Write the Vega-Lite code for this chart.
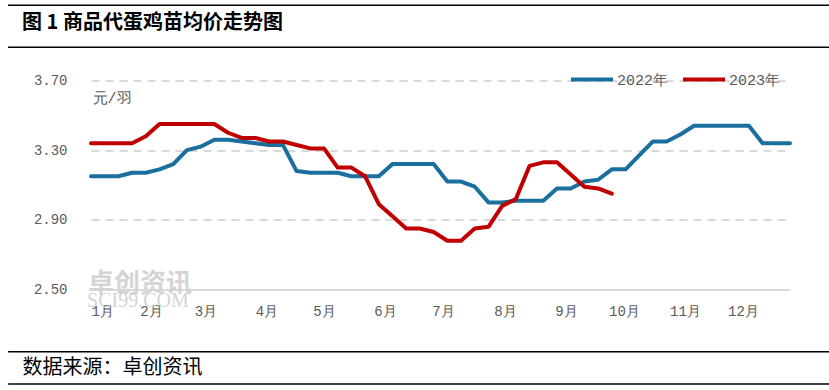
{
  "$schema": "https://vega.github.io/schema/vega-lite/v6.json",
  "width": 699,
  "height": 209,
  "autosize": {"type": "none"},
  "padding": {"left": 91, "top": 80.5, "right": 39, "bottom": 100.5},
  "background": "white",
  "config": {"view": {"stroke": null}, "font": "Liberation Mono"},
  "title": {
    "text": "图 1 商品代蛋鸡苗均价走势图",
    "anchor": "start",
    "frame": "group",
    "dx": -69,
    "offset": -28,
    "font": "Noto Sans CJK SC",
    "fontSize": 20,
    "fontWeight": "bold",
    "color": "#000000"
  },
  "datasets": {
    "prices": [
      {"week": 1, "year": "2022年", "price": 3.15},
      {"week": 2, "year": "2022年", "price": 3.15},
      {"week": 3, "year": "2022年", "price": 3.15},
      {"week": 4, "year": "2022年", "price": 3.17},
      {"week": 5, "year": "2022年", "price": 3.17},
      {"week": 6, "year": "2022年", "price": 3.19},
      {"week": 7, "year": "2022年", "price": 3.22},
      {"week": 8, "year": "2022年", "price": 3.30},
      {"week": 9, "year": "2022年", "price": 3.32},
      {"week": 10, "year": "2022年", "price": 3.36},
      {"week": 11, "year": "2022年", "price": 3.36},
      {"week": 12, "year": "2022年", "price": 3.35},
      {"week": 13, "year": "2022年", "price": 3.34},
      {"week": 14, "year": "2022年", "price": 3.33},
      {"week": 15, "year": "2022年", "price": 3.33},
      {"week": 16, "year": "2022年", "price": 3.18},
      {"week": 17, "year": "2022年", "price": 3.17},
      {"week": 18, "year": "2022年", "price": 3.17},
      {"week": 19, "year": "2022年", "price": 3.17},
      {"week": 20, "year": "2022年", "price": 3.15},
      {"week": 21, "year": "2022年", "price": 3.15},
      {"week": 22, "year": "2022年", "price": 3.15},
      {"week": 23, "year": "2022年", "price": 3.22},
      {"week": 24, "year": "2022年", "price": 3.22},
      {"week": 25, "year": "2022年", "price": 3.22},
      {"week": 26, "year": "2022年", "price": 3.22},
      {"week": 27, "year": "2022年", "price": 3.12},
      {"week": 28, "year": "2022年", "price": 3.12},
      {"week": 29, "year": "2022年", "price": 3.09},
      {"week": 30, "year": "2022年", "price": 3.00},
      {"week": 31, "year": "2022年", "price": 3.00},
      {"week": 32, "year": "2022年", "price": 3.01},
      {"week": 33, "year": "2022年", "price": 3.01},
      {"week": 34, "year": "2022年", "price": 3.01},
      {"week": 35, "year": "2022年", "price": 3.08},
      {"week": 36, "year": "2022年", "price": 3.08},
      {"week": 37, "year": "2022年", "price": 3.12},
      {"week": 38, "year": "2022年", "price": 3.13},
      {"week": 39, "year": "2022年", "price": 3.19},
      {"week": 40, "year": "2022年", "price": 3.19},
      {"week": 41, "year": "2022年", "price": 3.27},
      {"week": 42, "year": "2022年", "price": 3.35},
      {"week": 43, "year": "2022年", "price": 3.35},
      {"week": 44, "year": "2022年", "price": 3.39},
      {"week": 45, "year": "2022年", "price": 3.44},
      {"week": 46, "year": "2022年", "price": 3.44},
      {"week": 47, "year": "2022年", "price": 3.44},
      {"week": 48, "year": "2022年", "price": 3.44},
      {"week": 49, "year": "2022年", "price": 3.44},
      {"week": 50, "year": "2022年", "price": 3.34},
      {"week": 51, "year": "2022年", "price": 3.34},
      {"week": 52, "year": "2022年", "price": 3.34},
      {"week": 1, "year": "2023年", "price": 3.34},
      {"week": 2, "year": "2023年", "price": 3.34},
      {"week": 3, "year": "2023年", "price": 3.34},
      {"week": 4, "year": "2023年", "price": 3.34},
      {"week": 5, "year": "2023年", "price": 3.38},
      {"week": 6, "year": "2023年", "price": 3.45},
      {"week": 7, "year": "2023年", "price": 3.45},
      {"week": 8, "year": "2023年", "price": 3.45},
      {"week": 9, "year": "2023年", "price": 3.45},
      {"week": 10, "year": "2023年", "price": 3.45},
      {"week": 11, "year": "2023年", "price": 3.40},
      {"week": 12, "year": "2023年", "price": 3.37},
      {"week": 13, "year": "2023年", "price": 3.37},
      {"week": 14, "year": "2023年", "price": 3.35},
      {"week": 15, "year": "2023年", "price": 3.35},
      {"week": 16, "year": "2023年", "price": 3.33},
      {"week": 17, "year": "2023年", "price": 3.31},
      {"week": 18, "year": "2023年", "price": 3.31},
      {"week": 19, "year": "2023年", "price": 3.20},
      {"week": 20, "year": "2023年", "price": 3.20},
      {"week": 21, "year": "2023年", "price": 3.15},
      {"week": 22, "year": "2023年", "price": 2.99},
      {"week": 23, "year": "2023年", "price": 2.92},
      {"week": 24, "year": "2023年", "price": 2.85},
      {"week": 25, "year": "2023年", "price": 2.85},
      {"week": 26, "year": "2023年", "price": 2.83},
      {"week": 27, "year": "2023年", "price": 2.78},
      {"week": 28, "year": "2023年", "price": 2.78},
      {"week": 29, "year": "2023年", "price": 2.85},
      {"week": 30, "year": "2023年", "price": 2.86},
      {"week": 31, "year": "2023年", "price": 2.98},
      {"week": 32, "year": "2023年", "price": 3.02},
      {"week": 33, "year": "2023年", "price": 3.21},
      {"week": 34, "year": "2023年", "price": 3.23},
      {"week": 35, "year": "2023年", "price": 3.23},
      {"week": 36, "year": "2023年", "price": 3.16},
      {"week": 37, "year": "2023年", "price": 3.09},
      {"week": 38, "year": "2023年", "price": 3.08},
      {"week": 39, "year": "2023年", "price": 3.05}
    ]
  },
  "layer": [
    {
      "data": {"values": [{"label": "卓创资讯", "wx": 0.78, "wy": 2.531}]},
      "mark": {"type": "text", "align": "left", "baseline": "middle", "font": "Noto Sans CJK SC", "fontSize": 26, "fontWeight": "bold", "color": "#D4D4D4"},
      "encoding": {"x": {"field": "wx", "type": "quantitative"}, "y": {"field": "wy", "type": "quantitative"}, "text": {"field": "label"}}
    },
    {
      "data": {"values": [{"label": "SCI99.COM", "wx": 0.71, "wy": 2.432}]},
      "mark": {"type": "text", "align": "left", "baseline": "middle", "font": "Liberation Serif", "fontSize": 20, "color": "#D4D4D4"},
      "encoding": {"x": {"field": "wx", "type": "quantitative"}, "y": {"field": "wy", "type": "quantitative"}, "text": {"field": "label"}}
    },
    {
      "data": {"values": [
        {"x1": -5.05, "x2": 55, "yv": 4.132},
        {"x1": -5.05, "x2": 55, "yv": 3.891},
        {"x1": -5.05, "x2": 55, "yv": 2.142},
        {"x1": -5.05, "x2": 55, "yv": 1.957}
      ]},
      "mark": {"type": "rule", "color": "#000000", "strokeWidth": 1.5},
      "encoding": {
        "x": {"field": "x1", "type": "quantitative"},
        "x2": {"field": "x2"},
        "y": {"field": "yv", "type": "quantitative"}
      }
    },
    {
      "data": {"name": "prices"},
      "mark": {"type": "line", "strokeWidth": 4, "strokeJoin": "round", "strokeCap": "round"},
      "encoding": {
        "x": {
          "field": "week",
          "type": "quantitative",
          "scale": {"domain": [1, 52], "nice": false, "zero": false},
          "axis": {
            "values": [1, 5.38, 9.35, 13.8, 17.99, 22.44, 26.68, 31.2, 35.66, 39.89, 44.34, 48.57],
            "labelExpr": "round((datum.value - 1) * 12 / 52 + 1) + '月'",
            "grid": false,
            "ticks": false,
            "domain": true,
            "domainColor": "#D9D9D9",
            "domainWidth": 2,
            "labelFont": "Liberation Mono",
            "labelFontSize": 14,
            "labelColor": "#595959",
            "labelPadding": 15,
            "labelBaseline": "top",
            "title": "数据来源：卓创资讯",
            "titleX": -69,
            "titleY": 78,
            "titleAlign": "left",
            "titleBaseline": "middle",
            "titleFont": "Noto Sans CJK SC",
            "titleFontSize": 20,
            "titleFontWeight": "normal",
            "titleColor": "#000000"
          }
        },
        "y": {
          "field": "price",
          "type": "quantitative",
          "scale": {"domain": [2.5, 3.7], "nice": false, "zero": false},
          "axis": {
            "values": [2.5, 2.9, 3.3, 3.7],
            "format": ".2f",
            "grid": true,
            "gridColor": "#D9D9D9",
            "gridDash": [8, 6],
            "gridWidth": 2,
            "ticks": false,
            "domain": false,
            "labelFont": "Liberation Mono",
            "labelFontSize": 14,
            "labelColor": "#595959",
            "labelPadding": 24,
            "title": "元/羽",
            "titleAngle": 0,
            "titleX": 1,
            "titleY": 17,
            "titleAlign": "left",
            "titleBaseline": "middle",
            "titleFont": "Liberation Mono",
            "titleFontSize": 15,
            "titleFontWeight": "normal",
            "titleColor": "#595959"
          }
        },
        "color": {
          "field": "year",
          "type": "nominal",
          "scale": {"domain": ["2022年", "2023年"], "range": ["#1A6F9E", "#C00000"]},
          "legend": {
            "orient": "none",
            "legendX": 478,
            "legendY": -24,
            "direction": "horizontal",
            "title": null,
            "symbolType": "stroke",
            "symbolSize": 1764,
            "symbolStrokeWidth": 4,
            "labelFont": "Liberation Mono",
            "labelFontSize": 15,
            "labelColor": "#595959",
            "labelOffset": 2,
            "columnPadding": 6,
            "padding": 0
          }
        }
      }
    }
  ]
}
